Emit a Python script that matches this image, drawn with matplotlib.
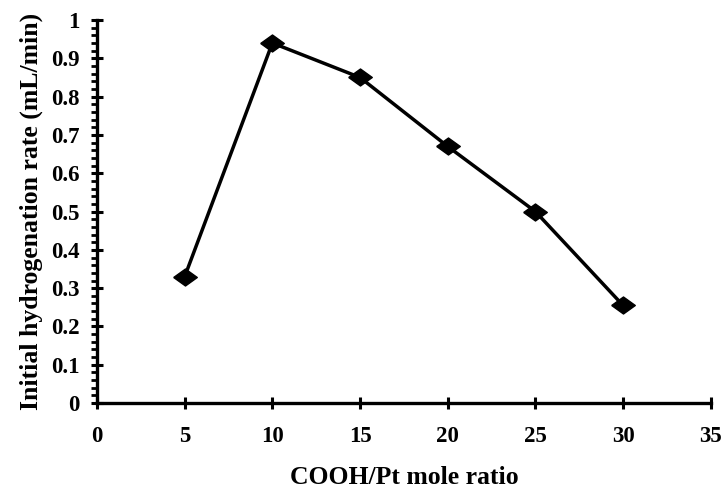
import matplotlib
matplotlib.use("Agg")
import matplotlib.pyplot as plt
from matplotlib.ticker import MultipleLocator

ratio = [5, 10, 15, 20, 25, 30]
rate = [0.33, 0.94, 0.85, 0.67, 0.50, 0.255]
x_ticks = [0, 5, 10, 15, 20, 25, 30, 35]
y_ticks = [0, 0.1, 0.2, 0.3, 0.4, 0.5, 0.6, 0.7, 0.8, 0.9, 1]
y_tick_labels = ["0", "0.1", "0.2", "0.3", "0.4", "0.5", "0.6", "0.7", "0.8", "0.9", "1"]

plt.rcParams['font.family'] = ['Liberation Serif', 'DejaVu Serif']
plt.rcParams['font.weight'] = 'bold'

fig = plt.figure(figsize=(7.26, 4.94), dpi=100)
ax = fig.add_axes([0.1336, 0.184, 0.979 - 0.1336, 0.9595 - 0.184])

diamond = [(-1, 0), (0, 0.72), (1, 0), (0, -0.72), (-1, 0)]
ax.plot(ratio, rate, color='black', linewidth=2.5, marker=diamond,
        markersize=17, markerfacecolor='black', markeredgecolor='black', zorder=3)

ax.set_xlim(0, 35)
ax.set_ylim(0, 1)
ax.set_xticks(x_ticks)
ax.set_xticklabels([str(v) for v in x_ticks], fontsize=16.5, fontweight='bold')
ax.set_yticks(y_ticks)
ax.set_yticklabels(y_tick_labels, fontsize=16.5, fontweight='bold')
ax.yaxis.set_minor_locator(MultipleLocator(0.02))

for s in ['top', 'right']:
    ax.spines[s].set_visible(False)
for s in ['left', 'bottom']:
    ax.spines[s].set_linewidth(2.4)
    ax.spines[s].set_zorder(4)

ax.tick_params(axis='both', which='major', direction='inout', length=9, width=2.2, color='black')
ax.tick_params(axis='y', which='minor', direction='out', length=4, width=2.0)
ax.tick_params(axis='x', which='major', pad=12)
ax.tick_params(axis='y', which='major', pad=8)

ax.set_xlabel('COOH/Pt mole ratio', fontsize=18.5, fontweight='bold', labelpad=14)
ax.set_ylabel('Initial hydrogenation rate (mL/min)', fontsize=18.5, fontweight='bold', labelpad=6)

fig.savefig('out.png', dpi=100)
